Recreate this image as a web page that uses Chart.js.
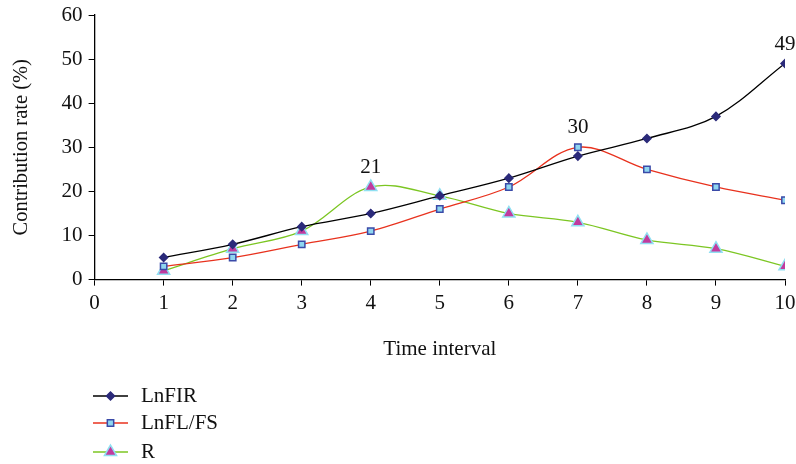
<!DOCTYPE html>
<html>
<head>
<meta charset="utf-8">
<script src="https://cdn.jsdelivr.net/npm/chart.js@4/dist/chart.umd.min.js"></script>
<style>
html,body{margin:0;padding:0;background:#fff;}
#wrap{width:796px;height:464px;}
</style>
</head>
<body>
<div id="wrap"><canvas id="c" width="796" height="464"></canvas></div>
<script>
const categories = [1, 2, 3, 4, 5, 6, 7, 8, 9, 10];
const seriesNames = ["LnFIR", "LnFL/FS", "R"];
const lnFIR = [5, 8, 12, 15, 19, 23, 28, 32, 37, 49];
const lnFLFS = [3, 5, 8, 11, 16, 21, 30, 25, 21, 18];
const rVals = [2, 7, 11, 21, 19, 15, 13, 9, 7, 3];
const xTicks = [0, 1, 2, 3, 4, 5, 6, 7, 8, 9, 10];
const yTicks = [0, 10, 20, 30, 40, 50, 60];
// [seriesIndex, pointIndex] of the values written above the curve
const labelledPoints = [[2, 3], [1, 6], [0, 9]];

const FONT = "'Liberation Serif', 'DejaVu Serif', serif";
const FS = 21;
const toXY = vals => vals.map((v, i) => ({x: categories[i], y: v}));

const styles = [
  {line: '#000000', fill: '#2b2a7a', border: '#2b2a7a', shape: 'rectRot', r: 4},
  {line: '#e8321e', fill: '#8fd6f0', border: '#3a4aa8', shape: 'rect', r: 4.5},
  {line: '#7cc623', fill: '#c13b9e', border: '#90e0f2', shape: 'triangle', r: 7}
];
const allVals = [lnFIR, lnFLFS, rVals];

const datasets = allVals.map((vals, k) => ({
  label: seriesNames[k],
  data: toXY(vals),
  borderColor: styles[k].line,
  borderWidth: 1.3,
  backgroundColor: styles[k].fill,
  pointBackgroundColor: styles[k].fill,
  pointBorderColor: styles[k].border,
  pointBorderWidth: 1.5,
  pointStyle: styles[k].shape,
  pointRadius: styles[k].r,
  tension: 0.35,
  fill: false
}));

const labelPlugin = {
  id: 'pointLabels',
  afterDatasetsDraw(chart) {
    const ctx = chart.ctx;
    ctx.save();
    ctx.font = FS + "px " + FONT;
    ctx.fillStyle = '#111';
    ctx.textAlign = 'center';
    ctx.textBaseline = 'bottom';
    labelledPoints.forEach(([s, i]) => {
      const el = chart.getDatasetMeta(s).data[i];
      ctx.fillText(String(allVals[s][i]), el.x, el.y - 9);
    });
    ctx.restore();
  }
};

const legendPlugin = {
  id: 'customLegend',
  afterDraw(chart) {
    const ctx = chart.ctx;
    const rows = [396, 423, 452];
    ctx.save();
    datasets.forEach((ds, k) => {
      const y = rows[k];
      ctx.strokeStyle = ds.borderColor;
      ctx.lineWidth = 1.5;
      ctx.beginPath();
      ctx.moveTo(93, y);
      ctx.lineTo(128, y);
      ctx.stroke();
      ctx.fillStyle = ds.pointBackgroundColor;
      ctx.strokeStyle = ds.pointBorderColor;
      ctx.lineWidth = 1.5;
      Chart.helpers.drawPoint(ctx, {pointStyle: ds.pointStyle, radius: ds.pointRadius, borderWidth: 1.5, rotation: 0}, 110.5, y);
      ctx.fillStyle = '#111';
      ctx.font = FS + "px " + FONT;
      ctx.textAlign = 'left';
      ctx.textBaseline = 'middle';
      ctx.fillText(ds.label, 141, y);
    });
    ctx.restore();
  }
};

new Chart(document.getElementById('c'), {
  type: 'line',
  data: {datasets},
  plugins: [labelPlugin, legendPlugin],
  options: {
    responsive: false,
    animation: false,
    layout: {padding: {left: 9, right: 0, top: 2, bottom: 102}},
    plugins: {legend: {display: false}, tooltip: {enabled: false}},
    scales: {
      x: {
        type: 'linear',
        min: xTicks[0], max: xTicks[xTicks.length - 1],
        afterBuildTicks: axis => { axis.ticks = xTicks.map(v => ({value: v})); },
        afterFit: axis => { axis.paddingRight = 11; },
        grid: {display: true, drawOnChartArea: false, drawTicks: true, tickLength: 6, color: '#000', lineWidth: 1},
        border: {display: true, color: '#000', width: 1.3},
        ticks: {color: '#111', font: {family: FONT, size: FS}, padding: 5, maxRotation: 0},
        title: {display: true, text: 'Time interval', color: '#111', font: {family: FONT, size: FS}, padding: {top: 16, bottom: 0}}
      },
      y: {
        min: yTicks[0], max: yTicks[yTicks.length - 1],
        afterBuildTicks: axis => { axis.ticks = yTicks.map(v => ({value: v})); },
        afterFit: axis => { axis.paddingTop = 15; },
        grid: {display: true, drawOnChartArea: false, drawTicks: true, tickLength: 6, color: '#000', lineWidth: 1},
        border: {display: true, color: '#000', width: 1.3},
        ticks: {color: '#111', font: {family: FONT, size: FS}, padding: 6},
        title: {display: true, text: 'Contribution rate (%)', color: '#111', font: {family: FONT, size: 20.5}, padding: {top: 0, bottom: 22}}
      }
    }
  }
});
</script>
</body>
</html>
